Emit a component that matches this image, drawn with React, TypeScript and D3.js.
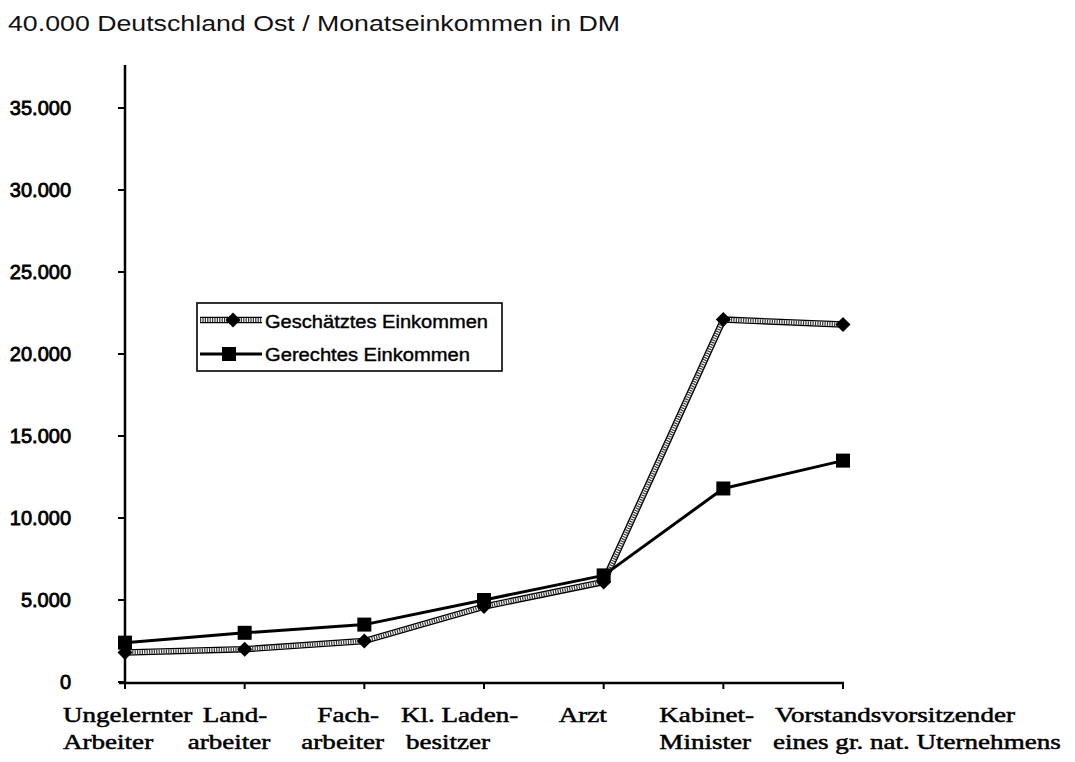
import React from "react";
import * as d3 from "d3";

const categoriesLine1 = ["Ungelernter", "Land-", "Fach-", "Kl. Laden-", "Arzt", "Kabinet-", "Vorstandsvorsitzender"];
const categoriesLine2 = ["Arbeiter", "arbeiter", "arbeiter", "besitzer", "", "Minister", "eines gr. nat. Uternehmens"];
const geschaetzt = [1800, 2000, 2500, 4600, 6100, 22100, 21800];
const gerecht = [2400, 3000, 3500, 5000, 6500, 11800, 13500];
const yTicks = [0, 5000, 10000, 15000, 20000, 25000, 30000, 35000];
const yTickLabels = ["0", "5.000", "10.000", "15.000", "20.000", "25.000", "30.000", "35.000"];
const title = "40.000 Deutschland Ost / Monatseinkommen in DM";
const legendLabels = ["Geschätztes Einkommen", "Gerechtes Einkommen"];

// layout: start x offsets of each label line relative to its tick
const labelOffsets: [number, number][] = [
  [-62, -62], [-42, -57], [-47, -63], [-83, -78], [-45, 0], [-64, -64], [-68, -70],
];

export default function App() {
  const x = d3.scalePoint<number>().domain(d3.range(categoriesLine1.length)).range([125, 843]);
  const y = d3.scaleLinear().domain([0, 35000]).range([682, 108]);
  const line = d3.line<number>().x((_, i) => x(i)!).y((d) => y(d));
  const sans = "'Liberation Sans', Arial, sans-serif";
  const serif = "'Liberation Serif', 'Times New Roman', serif";

  const grayLine = (d: string, key: string) => (
    <g key={key}>
      <path d={d} fill="none" stroke="#000" strokeWidth={6.5} strokeLinejoin="round" />
      <path d={d} fill="none" stroke="#fff" strokeWidth={3.8} strokeLinejoin="round" />
      <path d={d} fill="none" stroke="#333" strokeWidth={3.8} strokeDasharray="1.2 1.2" strokeLinejoin="round" />
    </g>
  );
  const diamond = (cx: number, cy: number, key: string) => (
    <path key={key} d={`M${cx},${cy - 7.5}L${cx + 7.5},${cy}L${cx},${cy + 7.5}L${cx - 7.5},${cy}Z`} fill="#000" />
  );
  const square = (cx: number, cy: number, key: string) => (
    <rect key={key} x={cx - 7} y={cy - 7} width={14} height={14} fill="#000" />
  );

  return (
    <svg width={1075} height={762} style={{ display: "block", position: "absolute", left: 0, top: 0 }}>
      <rect width={1075} height={762} fill="#fff" />
      <text x={8} y={31} fontFamily={sans} fontSize={22} textLength={612} lengthAdjust="spacingAndGlyphs" fill="#111">
        {title}
      </text>

      {/* y axis */}
      <line x1={125} x2={125} y1={65} y2={684} stroke="#000" strokeWidth={2.5} />
      {yTicks.map((t, i) => (
        <g key={t}>
          <line x1={118} x2={125} y1={y(t)} y2={y(t)} stroke="#000" strokeWidth={2} />
          <text x={71} y={y(t) + 7} textAnchor="end" fontFamily={sans} fontSize={20} fill="#000" stroke="#000" strokeWidth={0.8}>
            {yTickLabels[i]}
          </text>
        </g>
      ))}

      {/* x axis */}
      <line x1={119} x2={844} y1={683} y2={683} stroke="#000" strokeWidth={2.5} />
      {categoriesLine1.map((_, i) => (
        <line key={i} x1={x(i)} x2={x(i)} y1={683} y2={689} stroke="#000" strokeWidth={2} />
      ))}

      {/* category labels */}
      {categoriesLine1.map((c, i) => (
        <g key={c} fontFamily={serif} fontSize={22} fill="#000" stroke="#000" strokeWidth={0.5}>
          <text transform={`translate(${x(i)! + labelOffsets[i][0]},722) scale(1.23,1)`}>{c}</text>
          {categoriesLine2[i] && (
            <text transform={`translate(${x(i)! + labelOffsets[i][1]},749) scale(1.23,1)`}>{categoriesLine2[i]}</text>
          )}
        </g>
      ))}

      {/* series */}
      {grayLine(line(geschaetzt)!, "g")}
      {geschaetzt.map((v, i) => diamond(x(i)!, y(v), "d" + i))}
      <path d={line(gerecht)!} fill="none" stroke="#000" strokeWidth={3} strokeLinejoin="round" />
      {gerecht.map((v, i) => square(x(i)!, y(v), "s" + i))}

      {/* legend */}
      <rect x={197} y={303} width={305} height={68} fill="#fff" stroke="#000" strokeWidth={1.6} />
      {grayLine("M200,320L262,320", "lg")}
      {diamond(233, 320, "ld")}
      <text x={265} y={328} fontFamily={sans} fontSize={18} textLength={223} lengthAdjust="spacingAndGlyphs" fill="#000" stroke="#000" strokeWidth={0.4}>
        {legendLabels[0]}
      </text>
      <line x1={200} x2={262} y1={354} y2={354} stroke="#000" strokeWidth={3} />
      {square(229, 354, "ls")}
      <text x={265} y={361} fontFamily={sans} fontSize={18} textLength={205} lengthAdjust="spacingAndGlyphs" fill="#000" stroke="#000" strokeWidth={0.4}>
        {legendLabels[1]}
      </text>
    </svg>
  );
}
